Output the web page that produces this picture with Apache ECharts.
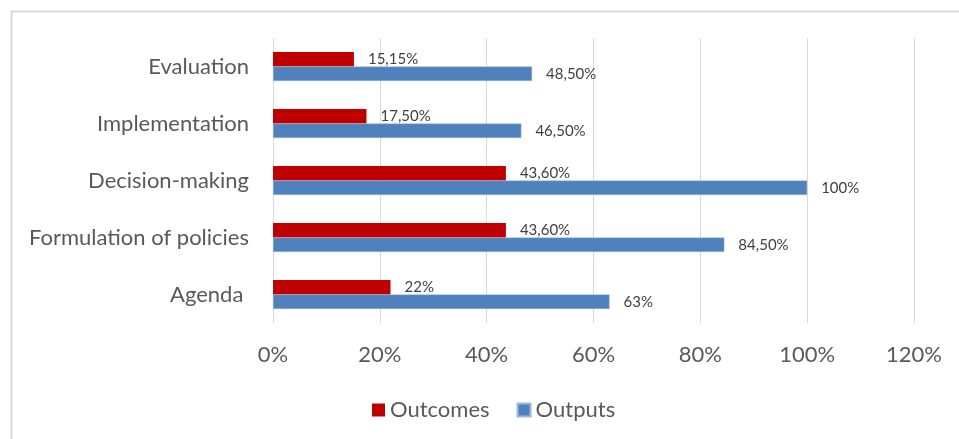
<!DOCTYPE html>
<html>
<head>
<meta charset="utf-8">
<script src="https://cdn.jsdelivr.net/npm/echarts@6/dist/echarts.min.js"></script>
<style>html,body{margin:0;padding:0;background:#fff}#c{width:959px;height:439px}</style>
</head>
<body>
<div id="c"></div>
<script>
var categories = ['Agenda ', 'Formulation of policies', 'Decision-making', 'Implementation', 'Evaluation'];
var outcomes = [22, 43.6, 43.6, 17.5, 15.15];
var outputs = [63, 84.5, 100, 46.5, 48.5];
var xTicks = [0, 20, 40, 60, 80, 100, 120];

function fmt(v) {
  if (Math.round(v) === v) return v + '%';
  return v.toFixed(2).replace('.', ',') + '%';
}
var FONT = 'Lato';
var chart = echarts.init(document.getElementById('c'), null, {renderer: 'canvas'});
chart.setOption({
  animation: false,
  textStyle: {fontFamily: FONT},
  graphic: [{
    type: 'rect', left: 9, top: 9, silent: true,
    shape: {width: 960, height: 440},
    style: {fill: 'none', stroke: '#d9d9d9', lineWidth: 2}
  }],
  legend: {
    left: 367, top: 394, itemWidth: 13, itemHeight: 13, itemGap: 27,
    icon: 'rect',
    textStyle: {fontFamily: FONT, fontSize: 22, color: '#595959'},
    data: ['Outcomes', 'Outputs']
  },
  grid: {left: 273, right: 45, top: 38, bottom: 116, containLabel: false},
  xAxis: {
    type: 'value', min: xTicks[0], max: xTicks[xTicks.length - 1], interval: 20,
    axisLine: {show: false}, axisTick: {show: false},
    axisLabel: {formatter: '{value}%', fontFamily: FONT, fontSize: 22, color: '#595959', margin: 21},
    splitLine: {lineStyle: {color: '#d9d9d9', width: 1}}
  },
  yAxis: {
    type: 'category', data: categories,
    axisLine: {show: false}, axisTick: {show: false},
    axisLabel: {fontFamily: FONT, fontSize: 22, color: '#595959', margin: 24}
  },
  series: [{
    name: 'Outcomes', type: 'bar', data: outcomes, barWidth: 14.5, barGap: '0%',
    itemStyle: {color: '#c00000'},
    label: {show: true, position: 'right', distance: 14, formatter: function(p){return fmt(p.value);},
      fontFamily: FONT, fontSize: 15, color: '#404040'}
  }, {
    name: 'Outputs', type: 'bar', data: outputs, barWidth: 14.5, barGap: '0%',
    itemStyle: {color: '#4f81bd', borderColor: '#9cb8dd', borderWidth: 0.5},
    label: {show: true, position: 'right', distance: 14, formatter: function(p){return fmt(p.value);},
      fontFamily: FONT, fontSize: 15, color: '#404040'}
  }]
});
</script>
</body>
</html>
